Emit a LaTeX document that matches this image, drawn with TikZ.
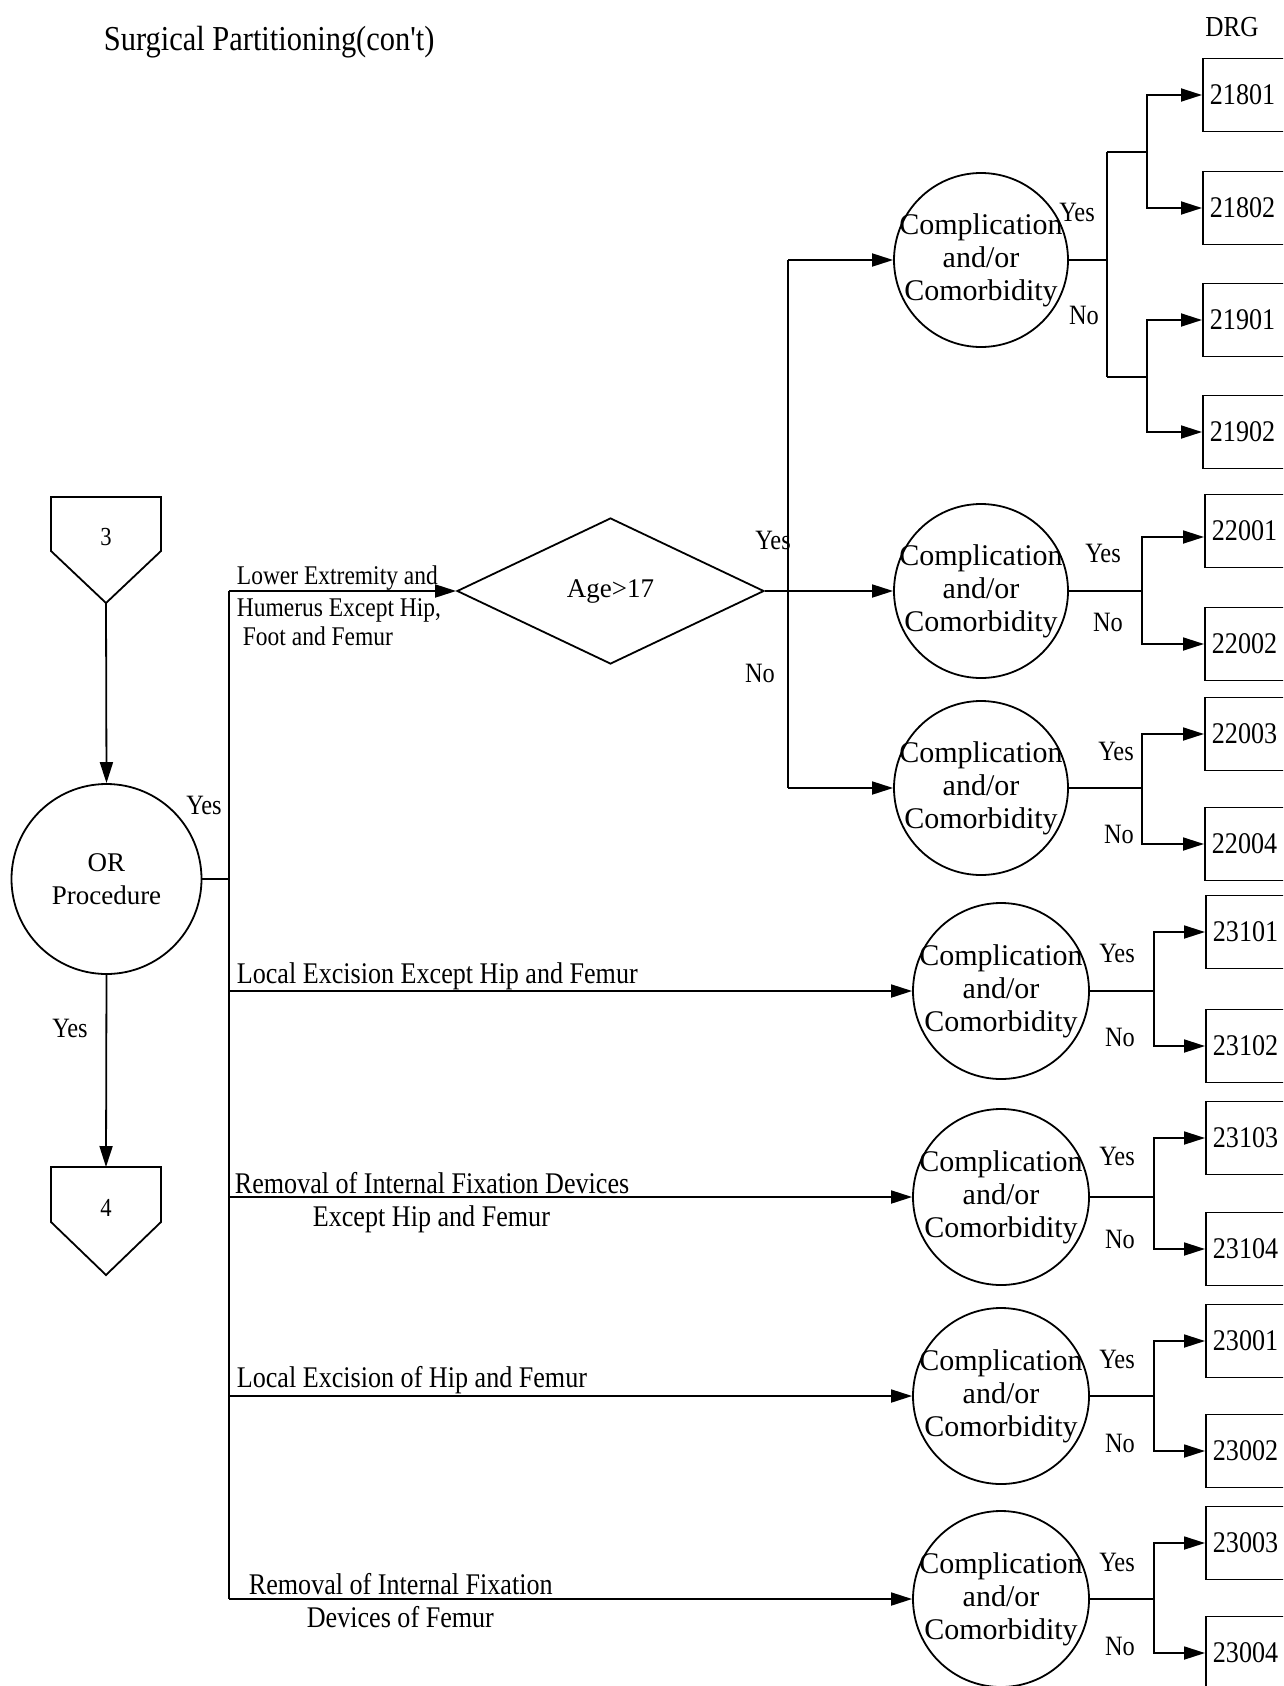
\documentclass[tikz,border=0pt]{standalone}
\usepackage{fontspec}
\setmainfont{Liberation Serif}
\newfontfamily\nf[FakeStretch=0.87]{Liberation Serif}
\usetikzlibrary{arrows.meta,shapes.geometric,calc}
\begin{document}
\begin{tikzpicture}[x=1pt,y=-1pt,line width=1.8pt,
  arr/.style={-{Triangle[length=21pt,width=13pt]}},
  cc/.style={circle,draw,minimum size=174pt,inner sep=0pt},
  cctext/.style={inner sep=0pt,align=center,font=\fontsize{30}{33}\selectfont},
  yn/.style={inner sep=0pt,font=\nf\fontsize{28}{30}\selectfont},
  lab/.style={inner sep=0pt,anchor=base west,font=\nf\fontsize{30}{33}\selectfont},
  smalllab/.style={inner sep=0pt,anchor=base west,font=\nf\fontsize{27}{30}\selectfont},
  box/.style={draw,anchor=west,minimum height=73pt,minimum width=110pt,text width=96pt,align=left,inner xsep=6pt,inner ysep=0pt,font=\nf\fontsize{30}{33}\selectfont},
  digit/.style={inner sep=0pt,font=\nf\fontsize{26}{28}\selectfont}
]
\useasboundingbox (0,0) rectangle (1283,1686);
\clip (0,0) rectangle (1283,1686);

% title
\node[inner sep=0pt,anchor=base west,font=\nf\fontsize{35}{38}\selectfont] (title) at (103,51) {Surgical Partitioning(con't)};
\node[inner sep=0pt,font=\nf\fontsize{29}{30}\selectfont] (drg) at (1232,27) {DRG};

% off-page connectors
\draw (51,497) -- (161,497) -- (161,551) -- (106,603) -- (51,551) -- cycle;
\node[digit] (p3) at (106,537) {3};
\coordinate (p3tip) at (106,603);
\draw (51,1167) -- (161,1167) -- (161,1222) -- (106,1275) -- (51,1222) -- cycle;
\node[digit] (p4) at (106,1208) {4};
\coordinate (p4top) at (106,1167);

% OR procedure
\node[circle,draw,minimum size=190pt,inner sep=0pt] (or) at (106.5,879) {};
\node[cctext,font=\fontsize{27}{33}\selectfont] (ort) at (or) {OR\\Procedure};
\draw[arr] (p3tip) -- (or.north);
\draw[arr] (or.south) -- (p4top);
\node[yn] (orY1) at (204,805) {Yes};
\node[yn] (orY2) at (70,1028) {Yes};

% age diamond
\node[diamond,draw,minimum width=307pt,minimum height=146pt,inner sep=0pt,font=\fontsize{27}{30}\selectfont] (age) at (610.5,591) {Age>17};

% complication circles
\node[cc] (c1) at (981,260) {};
\node[cc] (c2) at (981,591) {};
\node[cc] (c3) at (981,788) {};
\node[cc,minimum size=176pt] (c4) at (1001,991) {};
\node[cc,minimum size=176pt] (c5) at (1001,1197) {};
\node[cc,minimum size=176pt] (c6) at (1001,1396) {};
\node[cc,minimum size=176pt] (c7) at (1001,1599) {};
\foreach \c in {c1,c2,c3,c4,c5,c6,c7}
  \node[cctext] (\c t) at (\c) {Complication\\and/or\\Comorbidity};

% DRG boxes
\node[box] (b21801) at (1202,95) {21801};
\node[box] (b21802) at (1202,208) {21802};
\node[box] (b21901) at (1202,320) {21901};
\node[box] (b21902) at (1202,432) {21902};
\node[box] (b22001) at (1204,531) {22001};
\node[box] (b22002) at (1204,644) {22002};
\node[box] (b22003) at (1204,734) {22003};
\node[box] (b22004) at (1204,844) {22004};
\node[box] (b23101) at (1205,932) {23101};
\node[box] (b23102) at (1205,1046) {23102};
\node[box] (b23103) at (1205,1138) {23103};
\node[box] (b23104) at (1205,1249) {23104};
\node[box] (b23001) at (1205,1341) {23001};
\node[box] (b23002) at (1205,1451) {23002};
\node[box] (b23003) at (1205,1543) {23003};
\node[box] (b23004) at (1205,1653) {23004};

% trunk
\coordinate (t0) at (229,591);
\coordinate (t4) at (229,1599);
\draw (or.east) -- (or.east -| t0);
\draw (t0) -- (t4);
\draw[arr] (t0) -- (age.west);
\draw[arr] (t0 |- c4.west) -- (c4.west);
\draw[arr] (t0 |- c5.west) -- (c5.west);
\draw[arr] (t0 |- c6.west) -- (c6.west);
\draw[arr] (t4) -- (c7.west);

% procedure labels
\node[smalllab] (l1) at (236,584) {Lower Extremity and};
\node[smalllab] (l2) at (236,616) {Humerus Except Hip,};
\node[smalllab] (l3) at (242,645) {Foot and Femur};
\node[lab] (l4) at (236,983) {Local Excision Except Hip and Femur};
\node[lab] (l5) at (234,1193) {Removal of Internal Fixation Devices};
\node[lab] (l6) at (312,1226) {Except Hip and Femur};
\node[lab] (l7) at (236,1387) {Local Excision of Hip and Femur};
\node[lab] (l8) at (248,1594) {Removal of Internal Fixation};
\node[lab] (l9) at (306,1627) {Devices of Femur};

% age branches
\coordinate (a0) at (788,591);
\draw[arr] (age.east) -- (c2.west);
\draw (a0 |- c1.west) -- (a0 |- c3.west);
\draw[arr] (a0 |- c1.west) -- (c1.west);
\draw[arr] (a0 |- c3.west) -- (c3.west);
\node[yn] (ageY) at (773,540) {Yes};
\node[yn] (ageN) at (760,673) {No};

% group 1
\draw (c1.east) -- ++(38,0) coordinate (j1);
\coordinate (k1a) at (1147,152);
\coordinate (k1b) at (1147,377);
\draw (j1 |- k1a) -- (j1 |- k1b);
\draw (j1 |- k1a) -- (k1a);
\draw (j1 |- k1b) -- (k1b);
\draw[arr] (k1a) |- (b21801.west);
\draw[arr] (k1a) |- (b21802.west);
\draw[arr] (k1b) |- (b21901.west);
\draw[arr] (k1b) |- (b21902.west);
\node[yn] (y1) at (1077,212) {Yes};
\node[yn] (n1) at (1084,315) {No};

% group 2
\draw (c2.east) -- ++(73,0) coordinate (j2);
\draw[arr] (j2) |- ([yshift=-6pt]b22001.west);
\draw[arr] (j2) |- (b22002.west);
\node[yn] (y2) at (1103,553) {Yes};
\node[yn] (n2) at (1108,622) {No};

% group 3
\draw (c3.east) -- ++(73,0) coordinate (j3);
\draw[arr] (j3) |- (b22003.west);
\draw[arr] (j3) |- (b22004.west);
\node[yn] (y3) at (1116,751) {Yes};
\node[yn] (n3) at (1119,834) {No};

% group 4
\draw (c4.east) -- ++(64,0) coordinate (j4);
\draw[arr] (j4) |- (b23101.west);
\draw[arr] (j4) |- (b23102.west);
\node[yn] (y4) at (1117,953) {Yes};
\node[yn] (n4) at (1120,1037) {No};

% group 5
\draw (c5.east) -- ++(64,0) coordinate (j5);
\draw[arr] (j5) |- (b23103.west);
\draw[arr] (j5) |- (b23104.west);
\node[yn] (y5) at (1117,1156) {Yes};
\node[yn] (n5) at (1120,1239) {No};

% group 6
\draw (c6.east) -- ++(64,0) coordinate (j6);
\draw[arr] (j6) |- (b23001.west);
\draw[arr] (j6) |- (b23002.west);
\node[yn] (y6) at (1117,1359) {Yes};
\node[yn] (n6) at (1120,1443) {No};

% group 7
\draw (c7.east) -- ++(64,0) coordinate (j7);
\draw[arr] (j7) |- (b23003.west);
\draw[arr] (j7) |- (b23004.west);
\node[yn] (y7) at (1117,1562) {Yes};
\node[yn] (n7) at (1120,1646) {No};
\end{tikzpicture}
\end{document}
